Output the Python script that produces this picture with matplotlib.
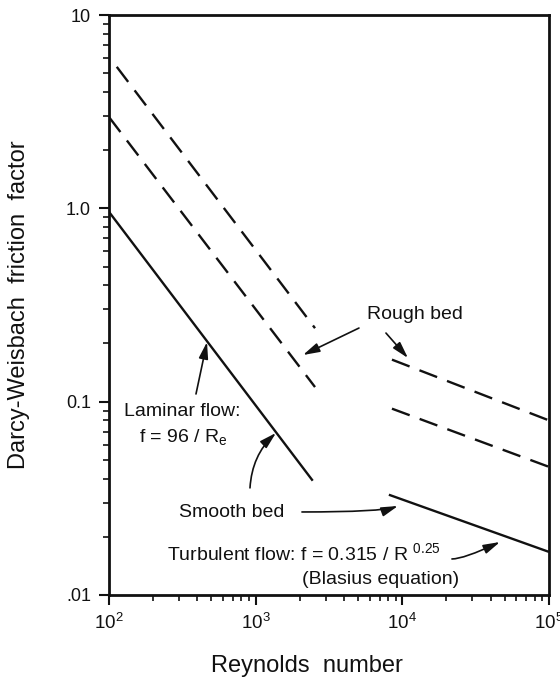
import numpy as np
import matplotlib
matplotlib.use('Agg')
import matplotlib.pyplot as plt
from matplotlib.ticker import FixedLocator, LogLocator, NullFormatter

plt.rcParams['font.family'] = ['Liberation Sans', 'DejaVu Sans']
plt.rcParams['mathtext.fontset'] = 'custom'
plt.rcParams['mathtext.rm'] = 'Liberation Sans'
plt.rcParams['mathtext.it'] = 'Liberation Sans:italic'
plt.rcParams['mathtext.bf'] = 'Liberation Sans:bold'

# Line segments (Reynolds number, friction factor)
laminar_re = [100, 2450]
laminar_f = [0.96, 0.039]

rough_upper_lam_re = [113, 2540]
rough_upper_lam_f = [5.4, 0.24]
rough_mid_lam_re = [100, 2540]
rough_mid_lam_f = [2.97, 0.119]

rough_upper_turb_re = [8500, 100000]
rough_upper_turb_f = [0.165, 0.080]
rough_mid_turb_re = [8500, 100000]
rough_mid_turb_f = [0.092, 0.046]

blasius_re = [8100, 100000]
blasius_f = [0.033, 0.0167]

y_ticks = [0.01, 0.1, 1.0, 10]
y_tick_labels = ['.01', '0.1', '1.0', '10']
x_ticks = [1e2, 1e3, 1e4, 1e5]
x_tick_labels = ['$10^{2}$', '$10^{3}$', '$10^{4}$', '$10^{5}$']

ink = '#111111'

fig = plt.figure(figsize=(5.6, 6.87), dpi=100)
ax = fig.add_axes([0.1946, 0.134, 0.7857, 0.844])

solid = dict(color=ink, lw=1.7, solid_capstyle='butt')
dashed = dict(color=ink, lw=1.7, dashes=(8, 4.5), dash_capstyle='butt')

ax.plot(laminar_re, laminar_f, **solid)
ax.plot(blasius_re, blasius_f, **solid)
ax.plot(rough_upper_lam_re, rough_upper_lam_f, **dashed)
ax.plot(rough_mid_lam_re, rough_mid_lam_f, **dashed)
ax.plot(rough_upper_turb_re, rough_upper_turb_f, **dashed)
ax.plot(rough_mid_turb_re, rough_mid_turb_f, **dashed)

ax.set_xscale('log')
ax.set_yscale('log')
ax.set_xlim(1e2, 1e5)
ax.set_ylim(0.01, 10)

ax.xaxis.set_major_locator(FixedLocator(x_ticks))
ax.set_xticklabels(x_tick_labels, fontsize=13.5, color=ink)
ax.xaxis.set_minor_locator(LogLocator(base=10, subs=np.arange(2, 10)))
ax.xaxis.set_minor_formatter(NullFormatter())
ax.yaxis.set_major_locator(FixedLocator(y_ticks))
ax.set_yticklabels(y_tick_labels, fontsize=13, color=ink)
ax.yaxis.set_minor_locator(LogLocator(base=10, subs=np.arange(2, 10)))
ax.yaxis.set_minor_formatter(NullFormatter())

ax.tick_params(which='major', direction='out', length=7, width=1.5, color=ink, pad=6)
ax.tick_params(which='minor', direction='out', length=4, width=1.2, color=ink)
ax.tick_params(axis='x', which='both', top=False)
ax.tick_params(axis='y', which='both', right=False)
for s in ax.spines.values():
    s.set_linewidth(2)
    s.set_color(ink)

ax.set_xlabel('Reynolds  number', fontsize=17, color=ink)
ax.xaxis.set_label_coords(0.45, -0.104)
ax.set_ylabel('Darcy-Weisbach  friction  factor', fontsize=17, color=ink)
ax.yaxis.set_label_coords(-0.18, 0.5)

# Annotation text
tk = dict(fontsize=14, color=ink)
ax.text(315, 0.0885, 'Laminar flow:', ha='center', va='center', **tk)
ax.text(320, 0.0657, r'f = 96 / R$_\mathrm{e}$', ha='center', va='center', **tk)
ax.text(690, 0.0266, 'Smooth bed', ha='center', va='center', **tk)
ax.text(249, 0.0165, r'Turbulent flow: f = 0.315 / R $^{0.25}$', ha='left', va='center', **tk)
ax.text(7150, 0.0120, '(Blasius equation)', ha='center', va='center', **tk)
ax.text(12200, 0.281, 'Rough bed', ha='center', va='center', **tk)

arrow = dict(arrowstyle='-|>,head_length=1.0,head_width=0.28', color=ink, lw=1.2,
             shrinkA=0, shrinkB=0)
arrows = [
    ((392, 0.1096), (466, 0.2035), 'arc3,rad=0.0'),
    ((915, 0.0358), (1376, 0.0689), 'arc3,rad=-0.2'),
    ((2069, 0.02687), (9342, 0.02886), 'angle3,angleA=0,angleB=20'),
    ((5064, 0.2404), (2102, 0.1743), 'arc3,rad=0.0'),
    ((7737, 0.2265), (10930, 0.1682), 'arc3,rad=0.0'),
    ((21800, 0.01535), (46340, 0.01879), 'angle3,angleA=0,angleB=25'),
]
for tail, head, cs in arrows:
    ax.annotate('', xy=head, xytext=tail,
                arrowprops=dict(connectionstyle=cs, **arrow))

fig.savefig('out.png', dpi=100)
